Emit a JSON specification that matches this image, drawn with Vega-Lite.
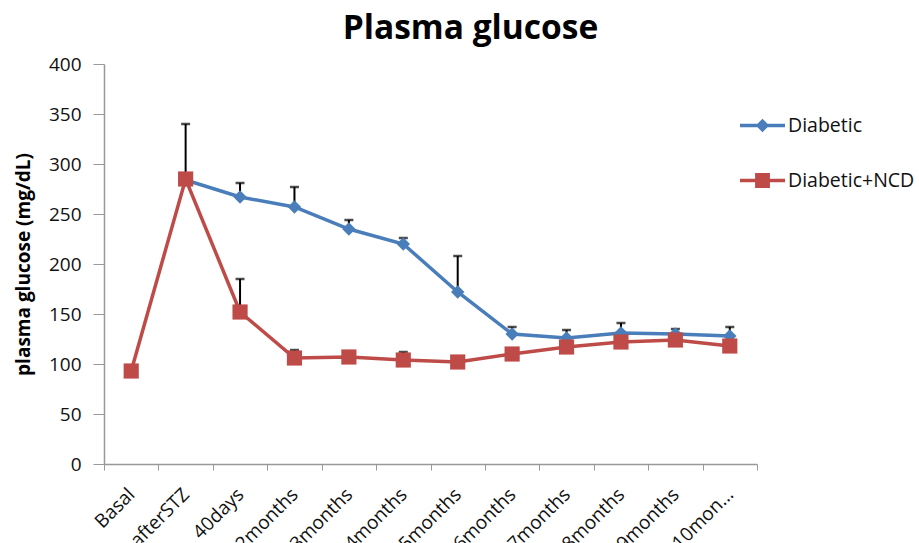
{
  "$schema": "https://vega.github.io/schema/vega-lite/v6.json",
  "width": 653,
  "height": 400,
  "autosize": {"type": "none"},
  "padding": {"left": 104, "top": 64, "right": 162, "bottom": 79},
  "background": "white",
  "title": {
    "text": "Plasma glucose",
    "font": "Open Sans",
    "fontSize": 33.5,
    "fontWeight": "bold",
    "color": "#000000",
    "anchor": "middle",
    "dx": 40,
    "baseline": "alphabetic",
    "offset": -17
  },
  "config": {
    "view": {"stroke": null},
    "font": "Open Sans"
  },
  "data": {
    "values": [
      {"time": "afterSTZ", "series": "Diabetic", "value": 284},
      {"time": "40days", "series": "Diabetic", "value": 267, "upper": 281},
      {"time": "2months", "series": "Diabetic", "value": 257, "upper": 277},
      {"time": "3months", "series": "Diabetic", "value": 235, "upper": 244},
      {"time": "4months", "series": "Diabetic", "value": 220, "upper": 226},
      {"time": "5months", "series": "Diabetic", "value": 172, "upper": 208},
      {"time": "6months", "series": "Diabetic", "value": 130, "upper": 137},
      {"time": "7months", "series": "Diabetic", "value": 126, "upper": 134},
      {"time": "8months", "series": "Diabetic", "value": 131, "upper": 141},
      {"time": "9months", "series": "Diabetic", "value": 130, "upper": 135},
      {"time": "10months", "series": "Diabetic", "value": 128, "upper": 137},
      {"time": "Basal", "series": "Diabetic+NCD", "value": 93},
      {"time": "afterSTZ", "series": "Diabetic+NCD", "value": 285, "upper": 340},
      {"time": "40days", "series": "Diabetic+NCD", "value": 152, "upper": 185},
      {"time": "2months", "series": "Diabetic+NCD", "value": 106, "upper": 114},
      {"time": "3months", "series": "Diabetic+NCD", "value": 107},
      {"time": "4months", "series": "Diabetic+NCD", "value": 104, "upper": 112},
      {"time": "5months", "series": "Diabetic+NCD", "value": 102},
      {"time": "6months", "series": "Diabetic+NCD", "value": 110},
      {"time": "7months", "series": "Diabetic+NCD", "value": 117},
      {"time": "8months", "series": "Diabetic+NCD", "value": 122},
      {"time": "9months", "series": "Diabetic+NCD", "value": 124},
      {"time": "10months", "series": "Diabetic+NCD", "value": 118}
    ]
  },
  "encoding": {
    "x": {
      "field": "time",
      "type": "ordinal",
      "bandPosition": 0.5,
      "sort": ["Basal", "afterSTZ", "40days", "2months", "3months", "4months", "5months", "6months", "7months", "8months", "9months", "10months"],
      "scale": {"type": "band", "paddingInner": 0, "paddingOuter": 0},
      "axis": {
        "title": null,
        "labelAngle": -45,
        "labelAlign": "right",
        "labelBaseline": "middle",
        "labelFont": "Open Sans",
        "labelFontSize": 19,
        "labelColor": "#111111",
        "labelPadding": 21,
        "labelExpr": "datum.label == '10months' ? '10mon...' : datum.label",
        "tickBand": "extent",
        "tickSize": 6,
        "tickColor": "#999999",
        "domainColor": "#999999",
        "domainWidth": 1.5,
        "labelOverlap": false
      }
    }
  },
  "layer": [
    {
      "transform": [{"filter": "isValid(datum.upper)"}],
      "mark": {"type": "rule", "color": "#000000", "strokeWidth": 2},
      "encoding": {
        "y": {"field": "value", "type": "quantitative"},
        "y2": {"field": "upper"}
      }
    },
    {
      "transform": [{"filter": "isValid(datum.upper)"}],
      "mark": {"type": "tick", "color": "#000000", "thickness": 2.5, "size": 9},
      "encoding": {
        "y": {"field": "upper", "type": "quantitative"}
      }
    },
    {
      "mark": {"type": "line", "strokeWidth": 3.5},
      "encoding": {
        "y": {
          "field": "value",
          "type": "quantitative",
          "scale": {"domain": [0, 400]},
          "axis": {
            "title": "plasma glucose (mg/dL)",
            "titleFont": "Open Sans",
            "titleFontSize": 19,
            "titleFontWeight": "bold",
            "titleColor": "#000000",
            "titlePadding": 15,
            "values": [0, 50, 100, 150, 200, 250, 300, 350, 400],
            "grid": false,
            "labelFont": "Open Sans",
            "labelFontSize": 19,
            "labelColor": "#111111",
            "labelPadding": 12,
            "tickSize": 11,
            "tickColor": "#999999",
            "domainColor": "#999999",
            "domainWidth": 1.5
          }
        },
        "color": {
          "field": "series",
          "type": "nominal",
          "scale": {"domain": ["Diabetic", "Diabetic+NCD"], "range": ["#4A7EBB", "#BE4B48"]},
          "legend": null
        }
      }
    },
    {
      "mark": {"type": "point", "filled": true, "opacity": 1},
      "encoding": {
        "y": {"field": "value", "type": "quantitative"},
        "color": {"field": "series", "type": "nominal", "legend": null},
        "shape": {
          "field": "series",
          "type": "nominal",
          "scale": {"domain": ["Diabetic", "Diabetic+NCD"], "range": ["diamond", "square"]},
          "legend": null
        },
        "size": {
          "field": "series",
          "type": "nominal",
          "scale": {"domain": ["Diabetic", "Diabetic+NCD"], "range": [180, 230]},
          "legend": null
        }
      }
    },
    {
      "transform": [{"filter": "datum.series == 'Diabetic'"}],
      "mark": {"type": "point", "filled": true, "opacity": 0, "size": 2025, "color": "#4A7EBB"},
      "encoding": {
        "y": {"field": "value", "type": "quantitative"},
        "shape": {
          "field": "series",
          "type": "nominal",
          "scale": {
            "domain": ["Diabetic"],
            "range": ["M-1,-0.075H1V0.075H-1Z M0,-0.3L0.3,0L0,0.3L-0.3,0Z"]
          },
          "legend": {
            "title": null,
            "orient": "none",
            "legendX": 636,
            "legendY": 39,
            "padding": 0,
            "labelFont": "Open Sans",
            "labelFontSize": 19.5,
            "labelColor": "#111111",
            "labelOffset": 3,
            "symbolOpacity": 1,
            "symbolSize": 2025,
            "symbolFillColor": "#4A7EBB",
            "symbolStrokeWidth": 0
          }
        }
      }
    },
    {
      "transform": [{"filter": "datum.series == 'Diabetic+NCD'"}],
      "mark": {"type": "point", "filled": true, "opacity": 0, "size": 2025, "color": "#BE4B48"},
      "encoding": {
        "y": {"field": "value", "type": "quantitative"},
        "shape": {
          "field": "series",
          "type": "nominal",
          "scale": {
            "domain": ["Diabetic+NCD"],
            "range": ["M-1,-0.075H1V0.075H-1Z M-0.33,-0.33H0.33V0.33H-0.33Z"]
          },
          "legend": {
            "title": null,
            "orient": "none",
            "legendX": 636,
            "legendY": 94,
            "padding": 0,
            "labelFont": "Open Sans",
            "labelFontSize": 19.5,
            "labelColor": "#111111",
            "labelOffset": 3,
            "symbolOpacity": 1,
            "symbolSize": 2025,
            "symbolFillColor": "#BE4B48",
            "symbolStrokeWidth": 0
          }
        }
      }
    }
  ],
  "resolve": {"scale": {"shape": "independent", "size": "independent"}}
}
